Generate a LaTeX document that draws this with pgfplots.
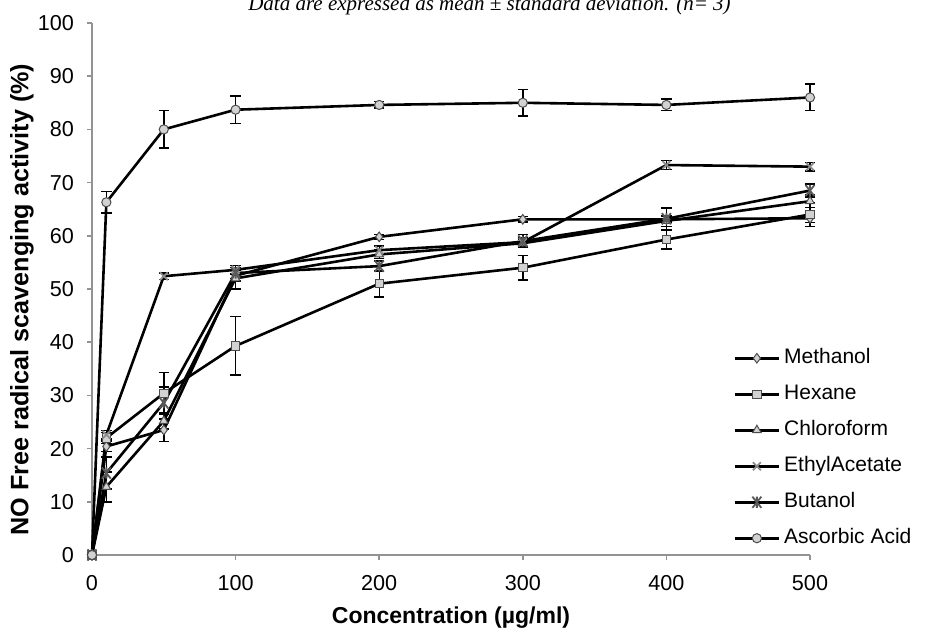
\documentclass[border=0pt]{standalone}
\usepackage{pgfplots}
\pgfplotsset{compat=1.18}
\usepackage{pgfplotstable}
\usepackage{fontspec}
\setmainfont{Liberation Sans}
\newfontfamily\timesfont{Liberation Serif}

\pgfdeclareplotmark{xbar}{%
  \pgfpathmoveto{\pgfqpoint{-0.8\pgfplotmarksize}{-\pgfplotmarksize}}%
  \pgfpathlineto{\pgfqpoint{0.8\pgfplotmarksize}{\pgfplotmarksize}}%
  \pgfpathmoveto{\pgfqpoint{-0.8\pgfplotmarksize}{\pgfplotmarksize}}%
  \pgfpathlineto{\pgfqpoint{0.8\pgfplotmarksize}{-\pgfplotmarksize}}%
  \pgfpathmoveto{\pgfqpoint{0pt}{-\pgfplotmarksize}}%
  \pgfpathlineto{\pgfqpoint{0pt}{\pgfplotmarksize}}%
  \pgfusepathqstroke}

\pgfplotstableread{
x y e
0 0 0
10 20.4 1.0
50 23.5 2.2
100 52.5 1.0
200 59.8 0.5
300 63.1 0.5
400 63.1 0.5
500 63.3 0.8
}\methanol
\pgfplotstableread{
x y e
0 0 0
10 22.0 1.0
50 30.4 3.9
100 39.3 5.5
200 51.0 2.5
300 54.0 2.3
400 59.3 1.8
500 64.0 2.3
}\hexane
\pgfplotstableread{
x y e
0 0 0
10 12.8 2.8
50 25.2 1.5
100 52.0 2.0
200 56.5 0.8
300 58.6 0.8
400 62.8 1.0
500 66.5 1.2
}\chloroform
\pgfplotstableread{
x y e
0 0 0
10 22.6 0.8
50 52.4 0.6
100 53.6 0.8
200 57.3 0.8
300 58.8 0.8
400 73.3 0.8
500 73.0 0.8
}\ethyl
\pgfplotstableread{
x y e
0 0 0
10 15.4 3.0
50 28.6 3.0
100 53.0 1.0
200 54.3 1.0
300 59.0 1.2
400 63.2 2.0
500 68.5 1.2
}\butanol
\pgfplotstableread{
x y e
0 0 0
10 66.3 2.0
50 80.0 3.5
100 83.7 2.6
200 84.6 0.6
300 85.0 2.5
400 84.6 1.1
500 86.0 2.5
}\ascorbic

\pgfplotsset{
  ser/.style={black, line width=1.3pt, mark options={solid, fill=gray!35, draw=black!70, line width=0.5pt}},
  err/.style={error bars/.cd, y dir=both, y explicit,
    error bar style={line width=0.7pt, black, solid},
    error mark options={rotate=90, mark size=2.6pt, line width=0.7pt, black}},
}

\begin{document}
\begin{tikzpicture}
\begin{axis}[
  at={(46pt,38pt)}, anchor=south west,
  scale only axis, width=359pt, height=266pt,
  xmin=0, xmax=500, ymin=0, ymax=100,
  xtick={0,100,...,500}, ytick={0,10,...,100},
  axis lines=left, axis line style={-, draw=gray!85, line width=0.8pt},
  tick align=outside, major tick length=2.5pt,
  tick style={gray!85, line width=0.8pt},
  /pgf/number format/assume math mode=true,
  ticklabel style={font=\fontsize{10.8}{12}\selectfont, black},
  yticklabel style={xshift=-3pt},
  xticklabel style={yshift=-4pt},
  clip=false,
  xlabel={Concentration (µg/ml)},
  ylabel={NO Free radical scavenging activity (\%)},
  xlabel style={font=\bfseries\fontsize{11.5}{13}\selectfont, at={(axis description cs:0.5,-0.118)}, anchor=center},
  ylabel style={font=\bfseries\fontsize{12.6}{14}\selectfont, at={(axis description cs:-0.0975,0.48)}, anchor=center},
  legend style={at={(axis description cs:0.893,0.396)}, anchor=north west, draw=none, fill=none,
    font=\fontsize{10.5}{12}\selectfont, row sep=4.5pt, inner sep=0pt,
    nodes={inner sep=2pt, text height=7.5pt, text depth=2pt}},
  legend cell align=left,
  legend image code/.code={\draw[mark repeat=2,mark phase=2,#1] plot coordinates {(0pt,0pt) (11pt,0pt) (22pt,0pt)};},
]
\addplot[ser, mark=diamond*, mark size=2.4pt, err] table[x=x,y=y,y error=e]{\methanol};
\addlegendentry{Methanol}
\addplot[ser, mark=square*, mark size=2.1pt, err] table[x=x,y=y,y error=e]{\hexane};
\addlegendentry{Hexane}
\addplot[ser, mark=triangle*, mark size=2.5pt, err] table[x=x,y=y,y error=e]{\chloroform};
\addlegendentry{Chloroform}
\addplot[ser, mark=x, mark size=2.8pt, mark options={solid, draw=black!45, line width=0.9pt}, err] table[x=x,y=y,y error=e]{\ethyl};
\addlegendentry{EthylAcetate}
\addplot[ser, mark=xbar, mark size=2.8pt, mark options={solid, draw=black!65, line width=0.9pt}, err] table[x=x,y=y,y error=e]{\butanol};
\addlegendentry{Butanol}
\addplot[ser, mark=*, mark size=2.3pt, err] table[x=x,y=y,y error=e]{\ascorbic};
\addlegendentry{Ascorbic Acid}
\end{axis}
\node[font=\timesfont\itshape\fontsize{10.5}{12}\selectfont, anchor=base] at (244.75pt,310pt)
  {Data are expressed as mean ± standard deviation. (n= 3)};
\pgfresetboundingbox
\useasboundingbox (0,0) rectangle (472.5pt,315.5pt);
\end{tikzpicture}
\end{document}
